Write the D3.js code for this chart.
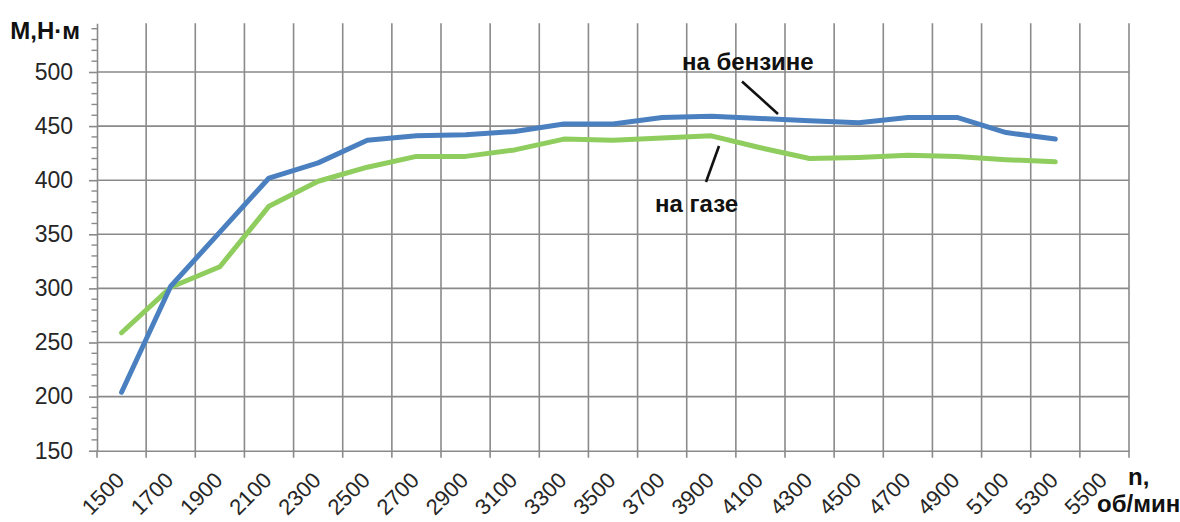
<!DOCTYPE html>
<html><head><meta charset="utf-8">
<script src="https://cdn.jsdelivr.net/npm/d3@7"></script>
<style>
html,body{margin:0;padding:0;background:#fff;}
svg{display:block;font-family:"Liberation Sans",Arial,sans-serif;}
</style></head>
<body>
<svg id="chart" width="1180" height="522"></svg>
<script>
const categories = ["1500","1700","1900","2100","2300","2500","2700","2900","3100","3300","3500","3700","3900","4100","4300","4500","4700","4900","5100","5300","5500"];
const petrolValues = [204, 302, 352, 402, 416, 437, 441, 442, 445, 452, 452, 458, 459, 457, 455, 453, 458, 458, 444, 438];
const gasValues    = [259, 301, 320, 376, 399, 412, 422, 422, 428, 438, 437, 439, 441, 430, 420, 421, 423, 422, 419, 417];
const yTicks = [150, 200, 250, 300, 350, 400, 450, 500];
const yTitle = "М,Н·м";
const xTitle1 = "n,";
const xTitle2 = "об/мин";
const petrolLabel = "на бензине";
const gasLabel = "на газе";

const svg = d3.select("#chart");
const pLeft = 97, pRight = 1129, pTop = 23.3, pBottom = 450.7;

const x = d3.scaleBand().domain(categories).range([pLeft, pRight]).paddingInner(0).paddingOuter(0);
const y = d3.scaleLinear().domain([150, 545]).range([pBottom, pTop]);
const grid = "#8a8a8a";

// vertical gridlines (category boundaries)
const bounds = categories.map(c => x(c)).concat([pRight]);
svg.append("g").selectAll("line").data(bounds.slice(1)).join("line")
  .attr("x1", d => d).attr("x2", d => d).attr("y1", pTop).attr("y2", pBottom + 7)
  .attr("stroke", grid).attr("stroke-width", 1.6);

// horizontal gridlines
svg.append("g").selectAll("line").data(yTicks.slice(1)).join("line")
  .attr("x1", pLeft).attr("x2", pRight).attr("y1", d => y(d)).attr("y2", d => y(d))
  .attr("stroke", grid).attr("stroke-width", 1.6);

// y axis with minor ticks
const minor = d3.range(150, 541, 10).filter(v => v % 50 !== 0);
svg.append("g").selectAll("line").data(minor).join("line")
  .attr("x1", pLeft - 5.5).attr("x2", pLeft).attr("y1", d => y(d)).attr("y2", d => y(d))
  .attr("stroke", grid).attr("stroke-width", 1.4);
const yAxis = svg.append("g").attr("transform", `translate(${pLeft},0)`)
  .call(d3.axisLeft(y).tickValues(yTicks).tickSize(8).tickPadding(16).tickSizeOuter(0));
yAxis.select(".domain").attr("stroke", grid).attr("stroke-width", 1.6);
yAxis.selectAll(".tick line").attr("stroke", grid).attr("stroke-width", 1.6);
yAxis.selectAll(".tick text").attr("font-size", 23).attr("fill", "#262626")
  .attr("font-family", "Liberation Sans, Arial, sans-serif");

// x axis line & ticks
const xAxis = svg.append("g").attr("transform", `translate(0,${pBottom})`)
  .call(d3.axisBottom(x).tickSize(0).tickSizeOuter(0).tickFormat(""));
xAxis.select(".domain").attr("stroke", grid).attr("stroke-width", 1.6);
svg.append("line").attr("x1", pLeft).attr("x2", pLeft).attr("y1", pBottom).attr("y2", pBottom + 7)
  .attr("stroke", grid).attr("stroke-width", 1.6);

// x labels rotated
svg.append("g").selectAll("text").data(categories).join("text")
  .attr("transform", d => `translate(${x(d) + x.bandwidth() / 2 + 4},${pBottom + 31}) rotate(-45)`)
  .attr("text-anchor", "end").attr("font-size", 22).attr("fill", "#262626")
  .text(d => d);

// lines
const line = d3.line().x((d, i) => x(categories[i]) + x.bandwidth() / 2).y(d => y(d));
svg.append("path").datum(gasValues).attr("d", line).attr("fill", "none")
  .attr("stroke", "#8fcd5e").attr("stroke-width", 5).attr("stroke-linejoin", "round").attr("stroke-linecap", "round");
svg.append("path").datum(petrolValues).attr("d", line).attr("fill", "none")
  .attr("stroke", "#4a80c0").attr("stroke-width", 5).attr("stroke-linejoin", "round").attr("stroke-linecap", "round");

// titles
svg.append("text").attr("x", 80).attr("y", 39).attr("text-anchor", "end")
  .attr("font-size", 24).attr("font-weight", "bold").attr("fill", "#111").text(yTitle);
svg.append("text").attr("x", 1128).attr("y", 485)
  .attr("font-size", 24).attr("font-weight", "bold").attr("fill", "#111").text(xTitle1);
svg.append("text").attr("x", 1097).attr("y", 512)
  .attr("font-size", 24).attr("font-weight", "bold").attr("fill", "#111").text(xTitle2);

// annotations
svg.append("text").attr("x", 682).attr("y", 70)
  .attr("font-size", 24).attr("font-weight", "bold").attr("fill", "#111").text(petrolLabel);
svg.append("line").attr("x1", 742).attr("y1", 81.5).attr("x2", 778).attr("y2", 114)
  .attr("stroke", "#111").attr("stroke-width", 2.6);
svg.append("text").attr("x", 655).attr("y", 212)
  .attr("font-size", 24).attr("font-weight", "bold").attr("fill", "#111").text(gasLabel);
svg.append("line").attr("x1", 719).attr("y1", 146).attr("x2", 706).attr("y2", 182)
  .attr("stroke", "#111").attr("stroke-width", 2.6);
</script>
</body></html>
